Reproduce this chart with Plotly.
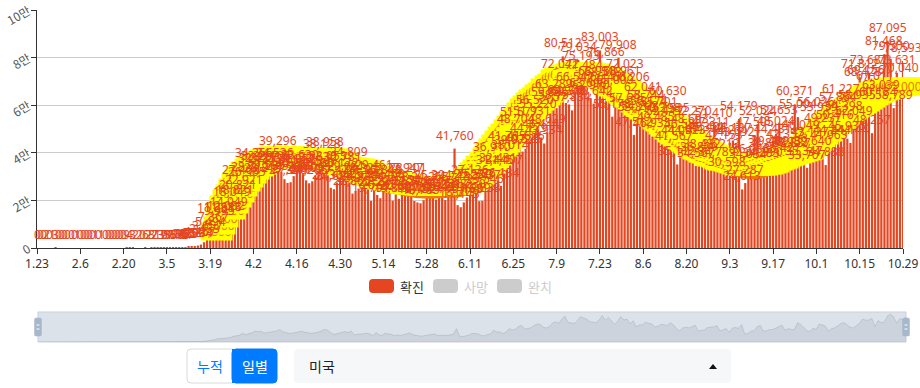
import plotly.graph_objects as go
import pandas as pd

# ---------------- data ----------------
dates = [f"{d.month}.{d.day}" for d in pd.date_range("2020-01-23", "2020-10-29")]

jan = [0, 0, 0, 2, 0, 1, 3, 0, 0]
feb = [0, 0, 0, 0, 1, 0, 0, 0, 0, 0, 1, 0, 1, 0, 0, 0, 0, 0, 0, 0,
       9, 4, 3, 2, 2, 0, 6, 2, 8]
mar = [7, 23, 19, 33, 77, 53, 166, 116, 175, 288, 365, 439, 633, 759, 1034,
       1467, 2433, 3657, 5494, 7367, 11238, 9995, 11618, 12082, 14049, 18049,
       18821, 20821, 27408, 22921, 26365]
apr = [28719, 34256, 32425, 33267, 28219, 29595, 32551, 33105, 34536, 39296,
       31861, 28917, 27306, 27641, 30206, 31927, 33630, 31045, 28409, 27206,
       28045, 30460, 32630, 38128, 38958, 33053, 25304, 24693, 27474, 30172]
may = [32781, 29081, 34809, 22865, 23976, 24978, 28325, 27163, 25546, 19791,
       29461, 22291, 20927, 27348, 25468, 24288, 19890, 22562, 20681, 23154,
       27947, 28201, 22509, 19767, 19152, 18785, 20062, 22651, 24265, 25394,
       20349]
jun = [21766, 21251, 20129, 21598, 24748, 41760, 18011, 17143, 19168, 21230,
       27136, 25520, 25567, 19694, 19833, 23546, 25379, 36910, 31445, 32431,
       26134, 31407, 41765, 38014, 39972, 48704, 51577, 40525, 41626, 44779]
jul = [51931, 56520, 55220, 46444, 43934, 48629, 59885, 63289, 58755, 72042,
       80512, 60978, 60315, 57834, 66547, 79034, 75193, 71484, 63698, 62970,
       60642, 68930, 83003, 68518, 76866, 66451, 55178, 65009, 79908, 68961,
       72023]
aug = [57695, 66206, 47512, 53810, 54203, 62041, 58744, 56174, 46935, 49485,
       55701, 53298, 52117, 60630, 53535, 41567, 35112, 44091, 46580, 44023,
       48693, 52270, 34567, 36829, 38432, 45314, 45404, 47311, 51410, 34789,
       38213]
sep = [42153, 30598, 44231, 45137, 43092, 54179, 24613, 27287, 34034, 36036,
       47505, 52024, 34283, 34990, 38857, 39489, 44431, 48024, 52653, 36427,
       42357, 38952, 38837, 60371, 55004, 46049, 35347, 33707, 43127, 39640]
octo = [56026, 53939, 49237, 34888, 41963, 44244, 50416, 57864, 61227, 54398,
        45935, 44144, 52049, 58935, 71812, 68428, 69156, 73687, 48257, 67011,
        60184, 63039, 81468, 87095, 79500, 58789, 73631, 70040, 78593]
daily = jan + feb + mar + apr + may + jun + jul + aug + sep + octo

# trend line values, starting at 3.21
trend_start = "3.21"
trend = [3800, 6500, 9600, 13000, 15400, 17800, 20100, 22300,
         24400, 26300, 28000, 29500, 30700, 31900, 32900, 33600,
         34000, 34500, 35000, 35400, 35800, 36000, 36100, 36000,
         35800, 35500, 35200, 35000, 34900, 34900, 35000, 35200,
         35400, 35600, 35700, 35600, 35200, 34600, 33900, 33200,
         32500, 31900, 31500, 31200, 30900, 30700, 30400, 29900,
         29200, 28500, 27800, 27100, 26500, 26100, 25800, 25500,
         25300, 25200, 25000, 24700, 24400, 24100, 23900, 23700,
         23500, 23300, 23200, 23100, 23100, 23000, 23000, 23100,
         23200, 23300, 23400, 23500, 23500, 23500, 23600, 23800,
         24200, 24800, 25600, 26600, 27700, 29000, 30500, 32200,
         33900, 35600, 37400, 39200, 41000, 42700, 44200, 45400,
         47100, 48900, 50700, 52500, 54300, 55900, 57200, 58500,
         59700, 60800, 61800, 63000, 64300, 65600, 66800, 68100,
         69000, 69300, 69900, 70400, 70900, 71200, 71400, 71300,
         71000, 70600, 70100, 69500, 69000, 68500, 67800, 67000,
         66100, 65200, 64300, 63500, 62600, 61600, 60800, 60000,
         59000, 57900, 56700, 55700, 54700, 53700, 52700, 51700,
         50800, 49700, 48600, 47500, 46400, 45300, 44300, 43300,
         42400, 41500, 40600, 39800, 39000, 38200, 37500, 36800,
         36200, 35600, 35000, 34500, 34000, 33600, 33200, 32800,
         32400, 32000, 31600, 31500, 31400, 31300, 31300, 31400,
         31600, 31900, 32300, 32700, 33200, 33700, 34300, 34900,
         35400, 35800, 36300, 36700, 37200, 37700, 38200, 39200,
         40400, 41700, 43000, 44400, 45800, 47000, 48200, 49400,
         50500, 51600, 52700, 53800, 54700, 55600, 56500, 57400,
         58300, 59200, 60000, 60700, 61400, 62100, 62700, 63400,
         63800, 64200, 64500, 64700, 64800, 64900, 65000, 65097]
t0 = dates.index(trend_start)
trend_dates = dates[t0:t0 + len(trend)]

y_ticks = [0, 20000, 40000, 60000, 80000, 100000]
y_text = ["0", "2만", "4만", "6만", "8만", "10만"]
legend_names = ["확진", "사망", "완치"]

# ---------------- geometry helpers ----------------
W, H = 920, 388
ML, MR, MT, MB = 37, 14, 10, 5
PW, PH = W - ML - MR, H - MT - MB


def px(x):
    return (x - ML) / PW


def py(y):
    return (H - MB - y) / PH


def rrect(x0, y0, x1, y1, r):
    X0, X1, Y0, Y1 = px(x0), px(x1), py(y0), py(y1)
    rx, ry = r / PW, r / PH
    return (f"M{X0+rx},{Y0} L{X1-rx},{Y0} Q{X1},{Y0} {X1},{Y0-ry} "
            f"L{X1},{Y1+ry} Q{X1},{Y1} {X1-rx},{Y1} L{X0+rx},{Y1} "
            f"Q{X0},{Y1} {X0},{Y1+ry} L{X0},{Y0-ry} Q{X0},{Y0} {X0+rx},{Y0} Z")


BAR = "#e5461f"
ORANGE = "#ee7a00"
FONT = "Noto Sans CJK KR, Noto Sans, sans-serif"
NUMFONT = "Noto Sans, sans-serif"

fig = go.Figure()
fig.add_trace(go.Bar(x=dates, y=daily, marker=dict(color=BAR, line=dict(width=0)),
                     showlegend=False, hoverinfo="x+y"))
fig.add_trace(go.Scatter(x=trend_dates, y=trend, mode="lines",
                         line=dict(color=ORANGE, width=11, shape="spline"),
                         showlegend=False, hoverinfo="skip"))
fig.add_trace(go.Scatter(x=dates, y=daily, xaxis="x2", yaxis="y2", mode="lines",
                         line=dict(color="rgba(47,69,84,0.18)", width=0.8),
                         fill="tozeroy", fillcolor="rgba(47,69,84,0.09)",
                         showlegend=False, hoverinfo="skip"))

annotations = []
# trend labels with yellow background (drawn first); x = category index
for k, v in enumerate(trend):
    annotations.append(dict(x=t0 + k, y=v, xref="x", yref="y", text=f"{v:,}",
                            showarrow=False, yanchor="middle", yshift=7,
                            bgcolor="#ffff00", borderpad=0,
                            font=dict(size=12, color=ORANGE, family=NUMFONT)))
# bar labels on top
for i, v in enumerate(daily):
    annotations.append(dict(x=i, y=v, xref="x", yref="y", text=f"{v:,}",
                            showarrow=False, yanchor="bottom", yshift=3,
                            font=dict(size=12, color=BAR, family=NUMFONT)))

shapes = []
# legend
leg = [(369, 394, BAR, "#333333"), (433, 458, "#cccccc", "#cccccc"),
       (497, 522, "#cccccc", "#cccccc")]
for (a, b, c, tc), name in zip(leg, legend_names):
    shapes.append(dict(type="path", path=rrect(a, 279, b, 293, 4), xref="paper",
                       yref="paper", fillcolor=c, line=dict(width=0)))
    annotations.append(dict(x=px(b + 4), y=py(286), xref="paper", yref="paper",
                            text=name, showarrow=False, xanchor="left", yanchor="middle",
                            font=dict(size=13, color=tc, family=FONT)))

# slider frame
shapes.append(dict(type="rect", xref="paper", yref="paper", x0=px(38), x1=px(906),
                   y0=py(342), y1=py(312), fillcolor="rgba(167,183,203,0.4)",
                   line=dict(color="#c9d1dd", width=1), layer="below"))
for hx in (38, 906):
    shapes.append(dict(type="path", path=rrect(hx - 3.5, 318, hx + 3.5, 336, 1.5),
                       xref="paper", yref="paper", fillcolor="#a7b7cc",
                       line=dict(color="#a7b7cc", width=0.5)))
    shapes.append(dict(type="line", xref="paper", yref="paper", x0=px(hx - 1.5),
                       x1=px(hx + 1.5), y0=py(325), y1=py(325),
                       line=dict(color="#ffffff", width=1)))
    shapes.append(dict(type="line", xref="paper", yref="paper", x0=px(hx - 1.5),
                       x1=px(hx + 1.5), y0=py(329), y1=py(329),
                       line=dict(color="#ffffff", width=1)))

# buttons
shapes.append(dict(type="path", path=rrect(187, 349, 236, 383, 4), xref="paper",
                   yref="paper", fillcolor="#ffffff", line=dict(color="#d6dadf", width=1)))
shapes.append(dict(type="path", path=rrect(232, 349, 277, 383, 4), xref="paper",
                   yref="paper", fillcolor="#007bff", line=dict(color="#007bff", width=1)))
shapes.append(dict(type="rect", xref="paper", yref="paper", x0=px(232), x1=px(238),
                   y0=py(383), y1=py(349), fillcolor="#007bff", line=dict(width=0)))
annotations.append(dict(x=px(209.5), y=py(366), xref="paper", yref="paper", text="누적",
                        xanchor="center", yanchor="middle", showarrow=False,
                        font=dict(size=14, color="#007bff", family=FONT)))
annotations.append(dict(x=px(254.5), y=py(366), xref="paper", yref="paper", text="일별",
                        xanchor="center", yanchor="middle", showarrow=False,
                        font=dict(size=14, color="#ffffff", family=FONT)))
# dropdown
shapes.append(dict(type="path", path=rrect(294, 349, 731, 383, 4), xref="paper",
                   yref="paper", fillcolor="#f6f7f8", line=dict(width=0)))
annotations.append(dict(x=px(307), y=py(366), xref="paper", yref="paper", text="미국",
                        xanchor="left", yanchor="middle", showarrow=False,
                        font=dict(size=14, color="#222222", family=FONT)))
shapes.append(dict(type="path", xref="paper", yref="paper",
                   path=(f"M{px(709)},{py(369)} L{px(717)},{py(369)} "
                         f"L{px(713)},{py(364)} Z"),
                   fillcolor="#111111", line=dict(width=0)))

fig.update_layout(
    width=W, height=H, margin=dict(l=ML, r=MR, t=MT, b=MB, autoexpand=False),
    paper_bgcolor="#ffffff", plot_bgcolor="#ffffff",
    font=dict(family=FONT, size=12, color="#333333"),
    bargap=0.28, showlegend=False,
    xaxis=dict(type="category", domain=[0, 866 / PW], range=[0, len(dates) - 1],
               tickmode="array", tickvals=dates[::14], ticktext=dates[::14],
               showline=True, linecolor="#333333", linewidth=1, ticks="outside",
               ticklen=5, tickcolor="#333333", showgrid=False, automargin=False,
               tickfont=dict(size=12, color="#333333", family=NUMFONT)),
    yaxis=dict(domain=[py(248), 1], range=[0, 100000], tickmode="array",
               tickvals=y_ticks, ticktext=y_text, tickangle=-30, automargin=False,
               showline=True, linecolor="#333333", linewidth=1, ticks="outside",
               ticklen=5, tickcolor="#333333", showgrid=True, gridcolor="#cccccc",
               zeroline=False, tickfont=dict(size=12, color="#555555", family=FONT)),
    xaxis2=dict(type="category", domain=[px(38), px(906)], range=[0, len(dates) - 1],
                anchor="y2", visible=False, showgrid=False),
    yaxis2=dict(domain=[py(342), py(312)], range=[0, max(daily) * 1.08], anchor="x2",
                visible=False, showgrid=False),
    annotations=annotations, shapes=shapes,
)

fig.write_html("out.html", config={"displayModeBar": False},
               post_script="document.body.style.margin='0px';document.body.style.overflow='hidden';")
